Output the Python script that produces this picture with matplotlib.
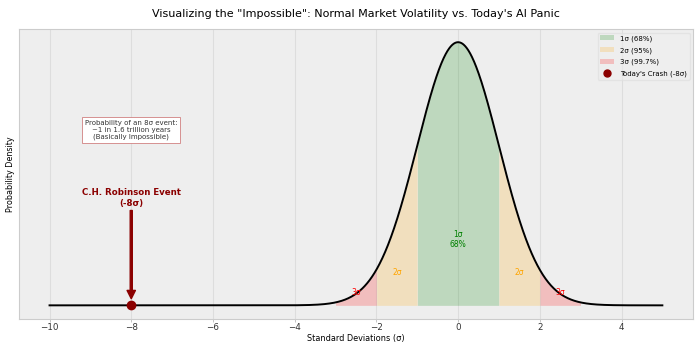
import numpy as np
import matplotlib
matplotlib.use("Agg")
import matplotlib.pyplot as plt
from matplotlib.patches import Patch
from matplotlib.lines import Line2D

# Data
x_min, x_max = -10, 5
crash_sigma = -8
band_labels = ["1σ (68%)", "2σ (95%)", "3σ (99.7%)"]
band_colors = ["green", "orange", "red"]
band_edges = [1, 2, 3]
band_text = ["1σ\n68%", "2σ", "3σ"]
band_text_y = [0.10, 0.05, 0.02]
band_text_x = [0.0, 1.5, 2.5]

x = np.linspace(x_min, x_max, 2000)
pdf = np.exp(-x**2 / 2) / np.sqrt(2 * np.pi)

fig, ax = plt.subplots(figsize=(7, 3.5), dpi=100)
ax.set_facecolor("#eeeeee")

ax.plot(x, pdf, color="black", lw=1.4, zorder=3)

# fills
for i, e in enumerate(band_edges):
    inner = band_edges[i - 1] if i > 0 else 0
    if i == 0:
        m = (x >= -e) & (x <= e)
        ax.fill_between(x[m], pdf[m], color=band_colors[i], alpha=0.2, lw=0)
    else:
        for sgn in (-1, 1):
            lo, hi = sorted([sgn * inner, sgn * e])
            m = (x >= lo) & (x <= hi)
            ax.fill_between(x[m], pdf[m], color=band_colors[i], alpha=0.2, lw=0)

# band labels
ax.text(band_text_x[0], band_text_y[0], band_text[0], color="green", ha="center",
        va="center", fontsize=5.5)
for i in (1, 2):
    for sgn in (-1, 1):
        ax.text(sgn * band_text_x[i], band_text_y[i], band_text[i], color=band_colors[i],
                ha="center", va="center", fontsize=5.5)

ax.plot([crash_sigma], [0], "o", color="darkred", markersize=6, zorder=5)

ax.annotate("C.H. Robinson Event\n(-8σ)", xy=(crash_sigma, 0.01), xytext=(crash_sigma, 0.148),
            ha="center", va="bottom", color="darkred", fontsize=6.2, fontweight="bold",
            arrowprops=dict(facecolor="darkred", edgecolor="darkred", width=1.5,
                            headwidth=6, headlength=6, shrink=0))

ax.text(crash_sigma, 0.266, "Probability of an 8σ event:\n~1 in 1.6 trillion years\n(Basically Impossible)",
        ha="center", va="center", fontsize=5, color="#333333",
        bbox=dict(boxstyle="square,pad=0.4", facecolor="white", edgecolor="#d08080", lw=0.6))

ax.set_title('Visualizing the "Impossible": Normal Market Volatility vs. Today\'s AI Panic',
             fontsize=8, pad=9)
ax.set_xlabel("Standard Deviations (σ)", fontsize=5.9, labelpad=1.5)
ax.set_ylabel("Probability Density", fontsize=5.8, labelpad=2.5)
ax.set_yticks([])
ax.tick_params(axis="x", labelsize=6.3, colors="#333333", length=2, width=0.6, pad=1.5,
               color="#bbbbbb")
ax.grid(axis="x", color="#dddddd", lw=0.8)
ax.set_axisbelow(True)
for s in ax.spines.values():
    s.set_color("#cccccc")
    s.set_linewidth(0.8)

handles = [Patch(facecolor=c, alpha=0.2, label=l) for c, l in zip(band_colors, band_labels)]
handles.append(Line2D([], [], marker="o", color="darkred", linestyle="none", markersize=5,
                      label="Today's Crash (-8σ)"))
leg = ax.legend(handles=handles, loc="upper right", fontsize=5, framealpha=0.6,
                facecolor="#eeeeee", edgecolor="#dddddd", labelspacing=0.75)

fig.subplots_adjust(left=0.027, right=0.99, top=0.917, bottom=0.09)
fig.savefig("out.png", dpi=100)
